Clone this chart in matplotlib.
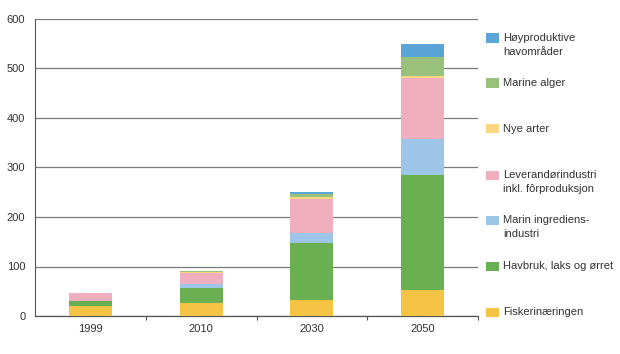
import matplotlib
matplotlib.use("Agg")
import matplotlib.pyplot as plt
from matplotlib.patches import Rectangle
import numpy as np

plt.rcParams['font.family'] = ['Liberation Sans', 'DejaVu Sans']

years = ["1999", "2010", "2030", "2050"]
series_names = ["Fiskerinæringen", "Havbruk, laks og ørret", "Marin ingrediens-\nindustri",
                "Leverandørindustri\ninkl. fôrproduksjon", "Nye arter", "Marine alger",
                "Høyproduktive\nhavområder"]
fiskeri = [20, 26, 32, 52]
havbruk = [10, 30, 115, 233]
marin_ingr = [0, 8, 20, 73]
leverandor = [16, 22, 70, 122]
nye_arter = [0, 2, 3, 5]
marine_alger = [0, 2, 6, 38]
hoyprod = [0, 0, 4, 26]
yticks = [0, 100, 200, 300, 400, 500, 600]

colors = ["#F5C445", "#6AAF52", "#9DC5E8", "#EFAFBF", "#F8D682", "#99C17C", "#5BA4D6"]
data = [fiskeri, havbruk, marin_ingr, leverandor, nye_arter, marine_alger, hoyprod]

fig = plt.figure(figsize=(6.2, 3.54), dpi=100)
ax = fig.add_axes([35/620, 38/354, 443/620, 297/354])

x = np.arange(len(years))
bottom = np.zeros(len(years))
for vals, c in zip(data, colors):
    ax.bar(x, vals, width=0.39, bottom=bottom, color=c, zorder=3, linewidth=0)
    bottom += np.array(vals)

ax.set_xlim(-0.5, 3.5)
ax.set_ylim(0, 600)
ax.set_yticks(yticks)
ax.set_yticklabels([str(v) for v in yticks], fontsize=8, color="#333333")
ax.tick_params(axis='y', which='major', length=0, pad=7)
ax.set_yticks([0], minor=True)
ax.tick_params(axis='y', which='minor', length=5, color="#555555", width=0.9)
ax.yaxis.grid(True, which='major', color="#7a7a7a", linewidth=0.9, zorder=0)
ax.set_xticks(x)
ax.set_xticklabels(years, fontsize=8, color="#333333")
ax.tick_params(axis='x', which='major', length=0, pad=6)
ax.set_xticks([0.5, 1.5, 2.5, 3.5], minor=True)
ax.tick_params(axis='x', which='minor', length=3, color="#555555", width=0.8)
for s in ["top", "right"]:
    ax.spines[s].set_visible(False)
ax.spines["left"].set_color("#555555")
ax.spines["left"].set_linewidth(0.8)
ax.spines["bottom"].set_color("#555555")
ax.spines["bottom"].set_linewidth(0.9)
ax.set_axisbelow(True)

# legend (top to bottom: reversed stack order)
leg_y = [38, 83, 129, 175, 220, 266, 312]
for i, yy in enumerate(leg_y):
    idx = len(series_names) - 1 - i
    yf = 1 - yy / 354
    fig.patches.append(Rectangle((486/620, yf - 4.5/354), 13/620, 9/354,
                                 transform=fig.transFigure, color=colors[idx], linewidth=0))
    fig.text(503/620, yf + 5/354, series_names[idx], fontsize=8, va='top', ha='left',
             color="#333333", linespacing=1.55)

fig.savefig("out.png", dpi=100)
